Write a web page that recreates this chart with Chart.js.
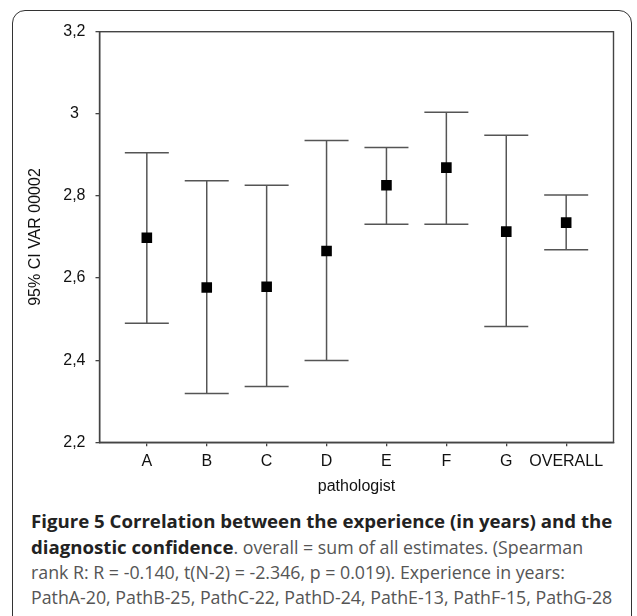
<!DOCTYPE html>
<html>
<head>
<meta charset="utf-8">
<script src="https://cdn.jsdelivr.net/npm/chart.js@4"></script>
<style>
  html, body { margin: 0; padding: 0; background: #fff; }
  body { width: 637px; height: 616px; position: relative; overflow: hidden; }
  #frame {
    position: absolute; left: 12px; top: 10px; width: 620px; height: 700px;
    border: 1.5px solid #333; border-radius: 13px; box-sizing: border-box;
  }
  #chart { position: absolute; left: 0; top: 0; }
  #caption {
    position: absolute; left: 31px; top: 508px; white-space: nowrap;
    font-family: "Open Sans", sans-serif; font-size: 17.8px; line-height: 25px;
    color: #555;
  }
  #caption b { font-weight: bold; color: #222; font-size: 18.65px; }
</style>
</head>
<body>
<div id="frame"></div>
<canvas id="chart" width="637" height="500"></canvas>
<div id="caption">
  <b>Figure 5 Correlation between the experience (in years) and the</b><br>
  <b>diagnostic confidence</b>. overall = sum of all estimates. (Spearman<br>
  rank R: R = -0.140, t(N-2) = -2.346, p = 0.019). Experience in years:<br>
  PathA-20, PathB-25, PathC-22, PathD-24, PathE-13, PathF-15, PathG-28
</div>
<script>
var categories = ['A', 'B', 'C', 'D', 'E', 'F', 'G', 'OVERALL'];
var means = [2.698, 2.577, 2.579, 2.666, 2.826, 2.869, 2.713, 2.735];
var upper = [2.905, 2.837, 2.826, 2.935, 2.918, 3.004, 2.948, 2.802];
var lower = [2.490, 2.319, 2.336, 2.399, 2.731, 2.731, 2.482, 2.669];
var yTicks = [2.2, 2.4, 2.6, 2.8, 3.0, 3.2];
var yTickLabels = ['2,2', '2,4', '2,6', '2,8', '3', '3,2'];

var meanPts = [], upPts = [], lowPts = [], whisker = [];
for (var i in categories) {
  var x = Number(i);
  meanPts.push({x: x, y: means[i]});
  upPts.push({x: x, y: upper[i]});
  lowPts.push({x: x, y: lower[i]});
  whisker.push({x: x, y: lower[i]});
  whisker.push({x: x, y: upper[i]});
  whisker.push({x: x, y: null});
}

// box round the plot area
var frameBox = {
  id: 'frameBox',
  afterDatasetsDraw: function(chart) {
    var a = chart.chartArea, ctx = chart.ctx;
    ctx.save();
    ctx.strokeStyle = '#444';
    ctx.lineWidth = 1.4;
    ctx.strokeRect(a.left, a.top, a.right - a.left, a.bottom - a.top);
    ctx.restore();
  }
};

var font = {family: '"Liberation Sans", Arial, sans-serif', size: 16};
var grey = '#555';

new Chart(document.getElementById('chart'), {
  type: 'scatter',
  data: {
    datasets: [
      {
        label: 'mean', data: meanPts, pointStyle: 'rect', pointRadius: 7.5,
        backgroundColor: '#000', borderColor: '#000', borderWidth: 0, order: 0
      },
      {
        label: 'upper', data: upPts, pointStyle: 'line', pointRadius: 22,
        borderColor: grey, borderWidth: 1.5, order: 1
      },
      {
        label: 'lower', data: lowPts, pointStyle: 'line', pointRadius: 22,
        borderColor: grey, borderWidth: 1.5, order: 1
      },
      {
        label: 'ci', data: whisker, showLine: true, spanGaps: false, pointRadius: 0,
        borderColor: grey, borderWidth: 1.5, order: 2
      }
    ]
  },
  options: {
    responsive: false,
    animation: false,
    events: [],
    layout: {padding: {left: 0, right: 13, top: 31.7, bottom: 0}},
    plugins: {legend: {display: false}, tooltip: {enabled: false}},
    scales: {
      x: {
        type: 'linear', min: -0.79, max: 7.79,
        afterBuildTicks: function(scale) {
          scale.ticks = categories.map(function(c, k) { return {value: k}; });
        },
        afterFit: function(scale) { scale.height = 57.7; },
        ticks: {
          color: '#111', font: font, padding: 6, maxRotation: 0, autoSkip: false,
          callback: function(v) { return categories[v]; }
        },
        grid: {display: true, drawOnChartArea: false, drawTicks: true, tickLength: 4, tickColor: '#444', lineWidth: 1.3},
        border: {display: true, color: '#444', width: 1.4},
        title: {display: true, text: 'pathologist', color: '#111', font: font, padding: {top: 0, bottom: 4}}
      },
      y: {
        min: 2.2, max: 3.2,
        afterBuildTicks: function(scale) {
          scale.ticks = yTicks.map(function(v) { return {value: v}; });
        },
        afterFit: function(scale) { scale.width = 99.5; },
        ticks: {
          color: '#111', font: font, padding: 10, crossAlign: 'center',
          callback: function(v, k) { return yTickLabels[k]; }
        },
        grid: {display: true, drawOnChartArea: false, drawTicks: true, tickLength: 4, tickColor: '#444', lineWidth: 1.3},
        border: {display: true, color: '#444', width: 1.4},
        title: {display: true, text: '95% CI VAR 00002', color: '#111', font: font, padding: {top: 26, bottom: 0}}
      }
    }
  },
  plugins: [frameBox]
});
</script>
</body>
</html>
